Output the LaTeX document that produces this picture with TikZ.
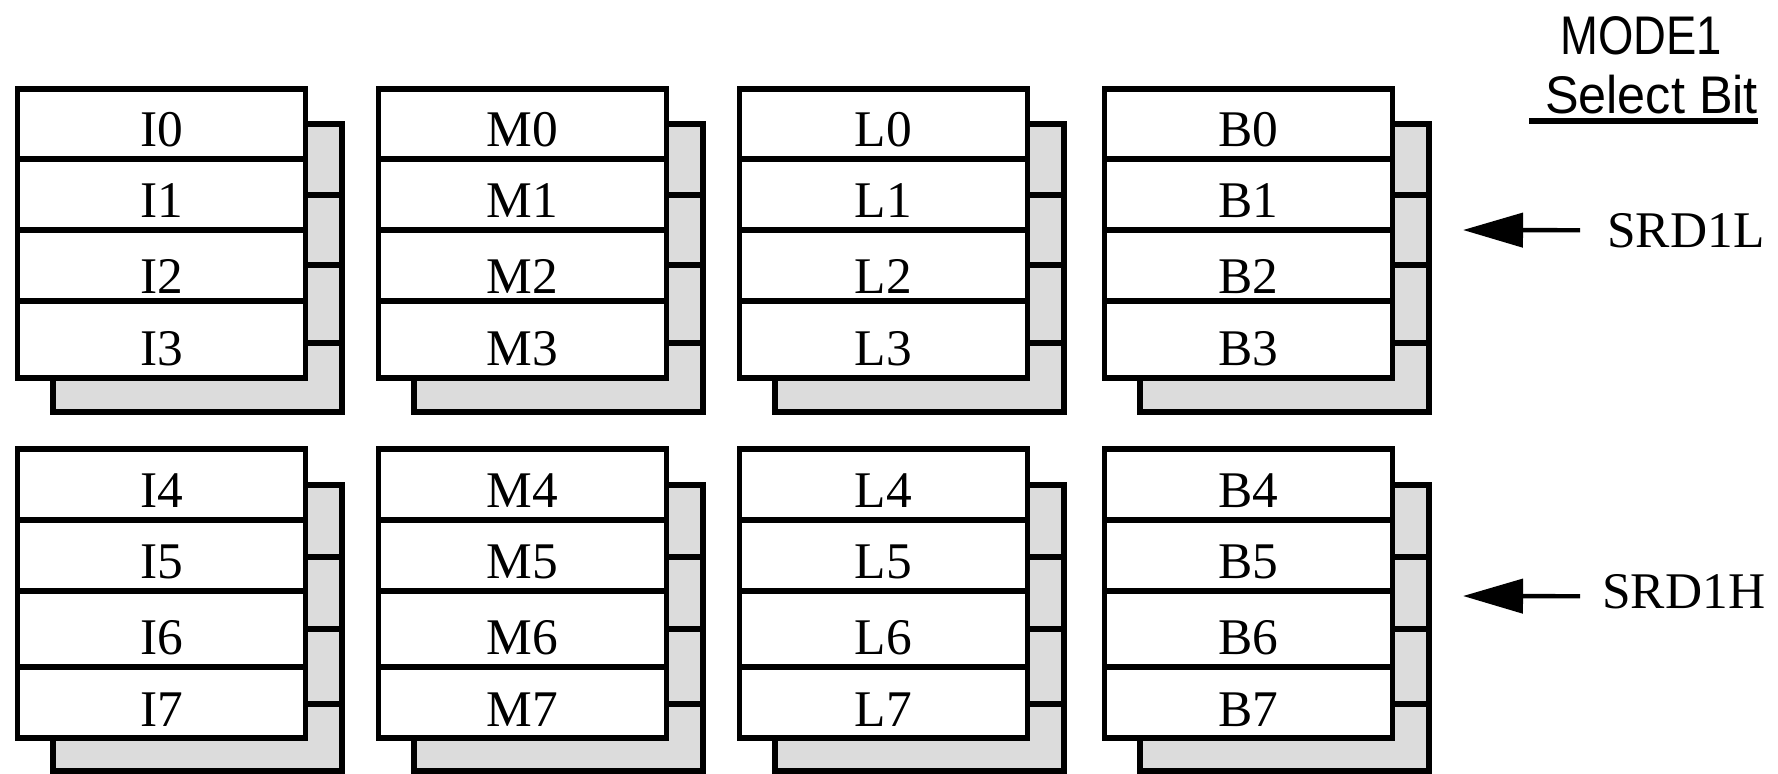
\documentclass[tikz,border=0pt]{standalone}
\usepackage{fontspec}
\setmainfont{Liberation Serif}
\newfontfamily\labelsans{Liberation Sans}
\usetikzlibrary{arrows.meta}
\definecolor{backgray}{RGB}{220,220,220}
\tikzset{
  regline/.style={line width=2.6pt, line join=miter},
  backcard/.style={regline, fill=backgray},
  frontcard/.style={regline, fill=white},
  reglabel/.style={font=\fontsize{25.7}{30}\selectfont, anchor=base, inner sep=0pt},
  sidelabel/.style={font=\fontsize{25.7}{30}\selectfont, anchor=base west, inner sep=0pt},
  headlabel/.style={anchor=base, inner sep=0pt},
  selarrow/.style={line width=2.2pt, -{Triangle[length=30pt,width=17pt]}},
}
\begin{document}
\begin{tikzpicture}[x=0.5pt,y=-0.5pt]
\useasboundingbox (0,0) rectangle (1778,773);
\foreach \grp/\pa/\pb/\pc/\pd/\pe/\qa/\qb/\qc/\qd/\qe/\ra/\rb/\rc/\rd/\nbase in {
  top/89/159/230/301/378/124/195/265/343/412/146/217/293/365/0,
  bot/449/520/591/667/738/485/557/629/704/771/507/578/654/726/4}{
  \foreach \col/\xl in {I/17.5, M/378.5, L/739.5, B/1104.5}{
    \draw[backcard] (\xl+35.5,\qa) rectangle (\xl+324.5,\qe);
    \draw[frontcard] (\xl,\pa) rectangle (\xl+288,\pe);
    \foreach \yy in {\qb,\qc,\qd} \draw[regline] (\xl+288,\yy) -- (\xl+324.5,\yy);
    \foreach \yy in {\pb,\pc,\pd} \draw[regline] (\xl,\yy) -- (\xl+288,\yy);
    \foreach \k/\yb in {0/\ra,1/\rb,2/\rc,3/\rd}{
      \pgfmathtruncatemacro{\idx}{\nbase+\k}
      \node[reglabel] (\col\idx) at (\xl+144,\yb) {\col\idx};
    }
  }
}
% header
\node[headlabel, font=\labelsans\fontsize{27.2}{32}\selectfont] (mode) at (1641,54) {\scalebox{0.835}[1]{MODE1}};
\node[headlabel, font=\labelsans\fontsize{26.5}{32}\selectfont] (selbit) at (1651.5,113) {\scalebox{0.95}[1]{Select Bit}};
\draw[line width=3pt] (1529,121) -- (1758,121);
% side labels and arrows
\node[sidelabel] (srdl) at (1607,247) {SRD1L};
\node[sidelabel] (srdh) at (1602,608) {SRD1H};
\coordinate (tipl) at (1463,230);
\coordinate (tiph) at (1463,596);
\draw[selarrow] ([xshift=-13.5pt]srdl.west) -- (tipl);
\draw[selarrow] ([xshift=-11pt,yshift=-2.5pt]srdh.west) -- (tiph);
\end{tikzpicture}
\end{document}
